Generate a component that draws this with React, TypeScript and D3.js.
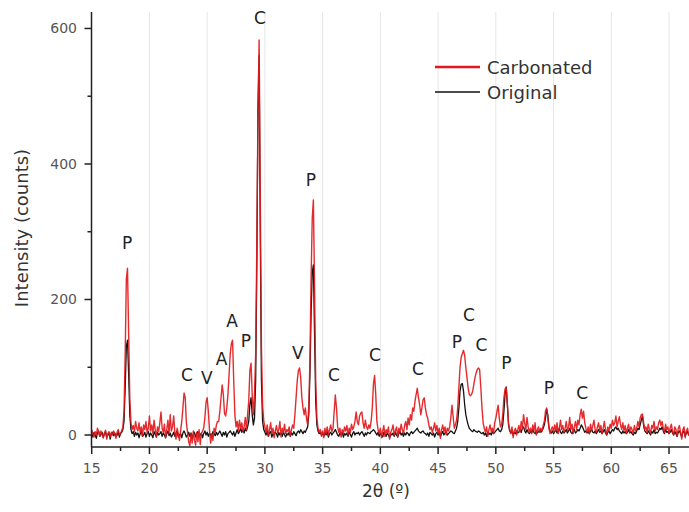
import React from 'react';
import * as d3 from 'd3';

// 2θ sampling of both patterns
const thetaStart = 15;
const thetaStep = 0.1;

// intensity (counts), one row per degree, 15.0 .. 66.8
const carbonated = [
  8, 2, -3, 5, 0, 10, 4, -2, 6, 1,
  -4, 3, 7, -6, 2, 5, -3, 4, 0, 6,
  2, -5, 4, 8, 0, 3, 6, 12, 35, 120,
  230, 246, 150, 55, 18, 8, 14, 5, 20, 10,
  6, 18, 4, 12, -2, 15, 8, 20, 3, 10,
  28, 6, 15, 2, 22, 8, -3, 12, 5, 18,
  34, 10, 4, 16, -4, 8, 22, 2, 30, 6,
  12, 28, 4, -6, 10, 2, -8, 6, 20, 40,
  62, 55, 18, 4, -10, -16, 2, -12, 6, -8,
  -15, 4, -10, 8, -14, 2, 6, 10, 25, 48,
  55, 35, 8, -12, 2, -8, 10, 4, 15, 20,
  20, 35, 55, 74, 60, 32, 28, 40, 60, 90,
  120, 135, 140, 80, 30, 12, 20, 6, 22, 10,
  18, 5, 12, 26, 8, 30, 50, 95, 106, 60,
  30, 60, 120, 280, 480, 583, 350, 130, 45, 20,
  12, 4, 15, -2, 8, 18, 2, 10, -4, 6,
  14, 3, 8, 20, -3, 10, 4, 16, 2, 8,
  5, 12, -2, 8, 15, 10, 30, 55, 80, 95,
  99, 85, 55, 40, 30, 40, 25, 15, 40, 110,
  230, 320, 347, 220, 80, 25, 10, 4, 8, -2,
  6, -4, 10, 2, 12, 0, 8, 15, 5, 10,
  35, 59, 40, 12, 4, 10, -3, 8, 2, 12,
  6, 14, 0, 10, 4, 16, 8, 12, 20, 34,
  20, 15, 28, 32, 34, 18, 10, 22, 12, 8,
  15, 10, 20, 40, 75, 88, 60, 20, 8, 2,
  10, -4, 6, 14, -2, 8, 3, 12, -6, 4,
  8, 15, 0, 6, 12, -3, 10, 4, 16, 8,
  2, 14, 20, 8, 25, 15, 30, 22, 40, 35,
  50, 60, 69, 55, 45, 30, 40, 52, 55, 40,
  30, 25, 15, 8, 12, 4, 10, 18, 6, 14,
  2, 10, -5, 8, 15, 4, 12, 0, 10, 6,
  12, 25, 44, 28, 10, 15, 22, 40, 70, 100,
  115, 120, 125, 118, 100, 85, 70, 60, 58, 60,
  65, 75, 85, 92, 97, 99, 96, 70, 40, 18,
  10, 4, 12, -2, 8, 15, 5, 10, 2, 18,
  25, 35, 44, 25, 12, 15, 30, 55, 68, 70,
  45, 18, 8, 2, 12, -4, 6, 10, 0, 8,
  14, 4, 20, 10, 30, 18, 8, 26, 12, 4,
  10, 2, 15, 6, 18, 0, 8, 12, 4, 10,
  6, 14, 20, 35, 40, 25, 10, 2, 8, 12,
  4, 15, 6, 18, 2, 10, 22, 8, 14, 4,
  10, 20, 6, 12, 26, 8, 16, 2, 12, 20,
  8, 22, 15, 30, 38, 25, 35, 18, 10, 4,
  12, 2, 16, 6, 14, 22, 8, 4, 12, 18,
  6, 14, 2, 10, 20, 8, 0, 12, 6, 16,
  10, 22, 14, 18, 28, 12, 20, 27, 15, 8,
  18, 6, 14, 2, 10, 16, 4, 12, 8, 2,
  14, 6, 10, 20, 12, 25, 30, 31, 18, 8,
  12, 4, 16, 8, 2, 14, 10, 20, 6, 12,
  8, 18, 22, 14, 20, 10, 4, 16, 8, 12,
  2, 10, 16, 6, 0, 12, 8, -2, 10, 14,
  4, -6, 8, 12, -4, 6, 10, 0, 4,
];

const original = [
  2, -3, 4, 0, -5, 3, 6, -2, 1, 4,
  -4, 2, 5, -3, 0, 3, -6, 2, 4, -1,
  3, -2, 0, 5, -3, 2, 4, 8, 20, 70,
  130, 140, 90, 30, 8, 2, 5, -2, 4, 0,
  3, -4, 2, 6, -2, 0, 4, -3, 2, 5,
  -2, 3, 0, -4, 5, 1, -3, 4, 0, 2,
  5, -2, 3, 0, -4, 2, 6, -1, 3, -3,
  0, 4, -2, 3, 6, -3, 0, 2, -4, 3,
  6, 2, -3, 0, 4, -2, 3, -5, 1, 4,
  -3, 2, 5, -2, 0, 3, -4, 2, 6, 0,
  4, -2, 3, 0, -3, 5, 2, -1, 4, 0,
  3, 6, 2, -2, 4, 0, 5, -3, 2, 4,
  6, 3, 0, 5, -2, 3, 8, 2, 5, 10,
  4, 8, 3, 10, 6, 12, 20, 45, 55, 30,
  15, 25, 80, 250, 480, 560, 300, 80, 20, 8,
  4, 0, 6, -2, 3, 5, -3, 2, 0, 4,
  2, -3, 4, 0, 3, -2, 5, 0, -3, 2,
  0, 4, -2, 3, 0, 5, 2, -1, 4, 6,
  3, 8, 5, 2, 6, 4, 8, 12, 30, 90,
  180, 240, 251, 150, 50, 15, 6, 2, 4, 0,
  3, -2, 4, 0, 5, -3, 2, 4, 0, 3,
  5, 8, 4, 0, -2, 3, 0, 4, -3, 2,
  0, 3, -2, 4, 1, -3, 2, 5, 0, 3,
  2, 4, 0, 3, 5, 2, -2, 3, 0, 4,
  3, 2, 5, 6, 8, 6, 3, 0, 4, -2,
  2, 0, -3, 4, 1, -2, 3, 0, -4, 2,
  0, 3, -2, 4, 0, -3, 2, 5, 0, 3,
  -2, 3, 0, 4, 2, -1, 3, 5, 2, 4,
  6, 8, 10, 6, 4, 3, 5, 6, 3, 2,
  0, 3, -2, 4, 2, 0, 3, -3, 2, 4,
  0, 3, -2, 2, 5, 0, 3, 4, 0, 2,
  4, 6, 5, 3, 2, 6, 10, 20, 40, 65,
  75, 76, 65, 45, 30, 22, 15, 10, 8, 6,
  5, 8, 6, 5, 4, 6, 5, 3, 2, 4,
  0, 3, -2, 4, 1, 3, 0, 5, 2, 4,
  6, 8, 10, 6, 5, 8, 15, 35, 60, 71,
  45, 15, 6, 3, 5, 0, 4, 2, 6, 3,
  5, 8, 4, 10, 12, 6, 3, 8, 4, 2,
  6, 3, 8, 4, 2, 6, 3, 5, 8, 4,
  6, 10, 15, 25, 38, 30, 12, 5, 3, 6,
  2, 5, 8, 3, 6, 10, 4, 2, 6, 3,
  5, 8, 3, 6, 10, 4, 2, 6, 8, 3,
  5, 8, 6, 10, 15, 12, 8, 4, 6, 3,
  5, 2, 6, 8, 4, 3, 6, 2, 5, 8,
  4, 6, 2, 5, 8, 3, 0, 4, 6, 2,
  5, 8, 6, 10, 12, 8, 10, 6, 4, 2,
  6, 3, 5, 2, 4, 8, 3, 5, 2, 0,
  4, 2, 6, 10, 8, 15, 22, 28, 14, 6,
  4, 2, 6, 3, 0, 5, 3, 8, 2, 4,
  3, 6, 10, 8, 12, 6, 2, 8, 4, 5,
  2, 4, 8, 3, 0, 5, 2, -2, 4, 6,
  2, -3, 4, 6, -2, 3, 5, 0, 2,
];

const seriesNames = ['Carbonated', 'Original'];
const seriesColors = ['#e3181c', '#111111'];

const xTicks = [15, 20, 25, 30, 35, 40, 45, 50, 55, 60, 65];
const xMinorTicks = [17.5, 22.5, 27.5, 32.5, 37.5, 42.5, 47.5, 52.5, 57.5, 62.5];
const yTicks = [0, 200, 400, 600];
const yMinorTicks = [100, 300, 500];

// phase labels: letter, 2θ, intensity level of the label
const peakLetters = ['P', 'C', 'V', 'A', 'A', 'P', 'C', 'V', 'P', 'C', 'C', 'C', 'P', 'C', 'C', 'P', 'P', 'C'];
const peakTheta = [18.06, 23.25, 24.98, 26.24, 27.15, 28.36, 29.57, 32.86, 33.98, 35.98, 39.53, 43.25, 46.63, 47.67, 48.75, 50.91, 54.59, 57.48];
const peakLevel = [283, 89, 84, 112, 168, 139, 615, 121, 376, 89, 118, 97, 137, 177, 133, 106, 69, 62];

const W = 689;
const H = 512;
const font = '"DejaVu Sans", sans-serif';

export default function App() {
  const x = d3.scaleLinear().domain([15, 66.73]).range([91.7, 689]);
  const y = d3.scaleLinear().domain([-17.7, 624.3]).range([447, 12]);
  const axisY = 447;
  const axisX = 91.5;

  const line = d3.line<number>()
    .x((d, i) => x(thetaStart + i * thetaStep))
    .y(d => y(d));

  return (
    <svg width={W} height={H} style={{ position: 'absolute', left: 0, top: 0, background: '#fff' }}
      fontFamily={font}>
      <defs>
        <clipPath id="plot">
          <rect x={axisX} y={10} width={W - axisX} height={axisY - 10} />
        </clipPath>
      </defs>

      {/* vertical grid */}
      {xTicks.slice(1).map(t => (
        <line key={'g' + t} x1={x(t)} x2={x(t)} y1={12} y2={axisY} stroke="#e6e6e6" strokeWidth={1} />
      ))}

      {/* original underneath, carbonated on top */}
      <g clipPath="url(#plot)" fill="none" strokeLinejoin="round">
        <path d={line(original) || ''} stroke={seriesColors[1]} strokeWidth={1.3} />
        <path d={line(carbonated) || ''} stroke={seriesColors[0]} strokeWidth={1.4} strokeOpacity={0.92} />
      </g>

      {/* x axis */}
      <line x1={axisX} x2={W} y1={axisY} y2={axisY} stroke="#222" strokeWidth={1.5} />
      {xTicks.map(t => (
        <g key={'x' + t}>
          <line x1={x(t)} x2={x(t)} y1={axisY} y2={axisY + 7} stroke="#222" strokeWidth={1.5} />
          <text x={x(t)} y={468} textAnchor="middle" dominantBaseline="central" fontSize={14} fill="#555">{t}</text>
        </g>
      ))}
      {xMinorTicks.map(t => (
        <line key={'xm' + t} x1={x(t)} x2={x(t)} y1={axisY} y2={axisY + 4} stroke="#222" strokeWidth={1.5} />
      ))}
      <text x={386} y={491} textAnchor="middle" dominantBaseline="central" fontSize={17} fill="#333">2θ (º)</text>

      {/* y axis */}
      <line x1={axisX} x2={axisX} y1={12} y2={axisY} stroke="#222" strokeWidth={1.5} />
      {yTicks.map(t => (
        <g key={'y' + t}>
          <line x1={axisX - 7} x2={axisX} y1={y(t)} y2={y(t)} stroke="#222" strokeWidth={1.5} />
          <text x={77} y={y(t)} textAnchor="end" dominantBaseline="central" fontSize={14} fill="#555">{t}</text>
        </g>
      ))}
      {yMinorTicks.map(t => (
        <line key={'ym' + t} x1={axisX - 4} x2={axisX} y1={y(t)} y2={y(t)} stroke="#222" strokeWidth={1.5} />
      ))}
      <text transform={`translate(21,228) rotate(-90)`} textAnchor="middle" dominantBaseline="central"
        fontSize={18} fill="#333">Intensity (counts)</text>

      {/* peak labels */}
      {peakLetters.map((p, i) => (
        <text key={'p' + i} x={x(peakTheta[i])} y={y(peakLevel[i])} textAnchor="middle"
          dominantBaseline="central" fontSize={17} fill="#222">{p}</text>
      ))}

      {/* legend */}
      {seriesNames.map((n, i) => (
        <g key={n} transform={`translate(435,${67 + i * 25})`}>
          <line x1={0} x2={45} y1={0} y2={0} stroke={seriesColors[i]} strokeWidth={i === 0 ? 2.5 : 1.5} />
          <text x={52} y={0} dominantBaseline="central" fontSize={18} fill="#333">{n}</text>
        </g>
      ))}
    </svg>
  );
}
